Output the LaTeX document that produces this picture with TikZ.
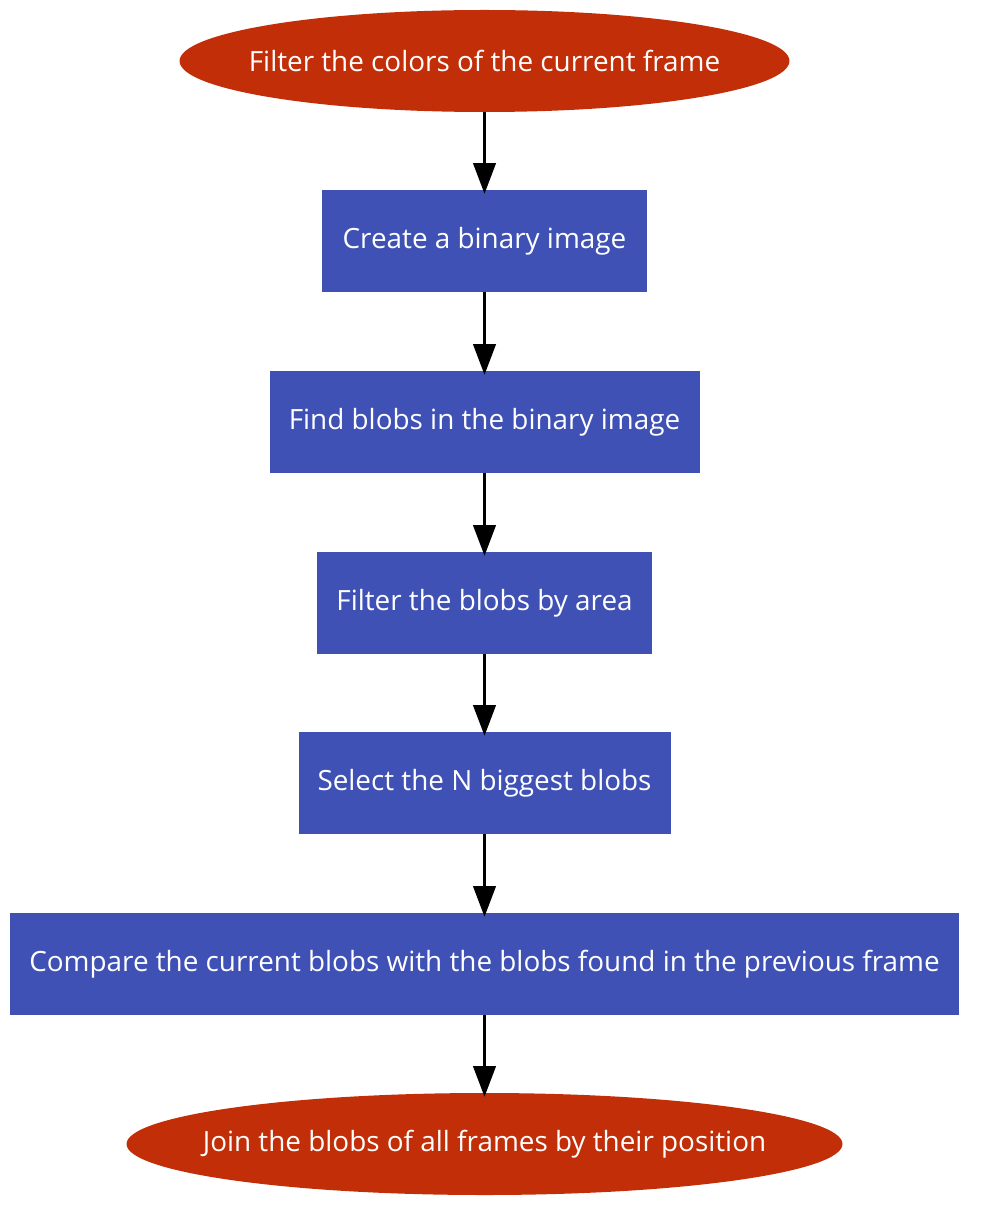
\documentclass[tikz,border=0pt]{standalone}
\usepackage{fontspec}
\setmainfont{Open Sans}
\usepackage{tikz}
\usetikzlibrary{arrows.meta,shapes.geometric}
\definecolor{termred}{RGB}{193,46,8}
\definecolor{stepblue}{RGB}{63,81,181}

\begin{document}
\begin{tikzpicture}[x=0.75pt, y=-0.75pt,
	every node/.style={text=white, font=\fontsize{20.9}{24}\selectfont, inner sep=0pt, minimum height=76.5pt},
	termnode/.style={ellipse, fill=termred},
	stepbox/.style={rectangle, fill=stepblue},
	flowarrow/.style={line width=1.6pt, shorten >=-3pt, -{Triangle[length=23pt, width=17pt]}}]
			%%%%% START %%%%%
			
			\useasboundingbox (0, 0) rectangle (983, 1219);
			
			\node[termnode, inner xsep=-15pt] (filter) at (484.5, 61) {Filter the colors of the current frame};
			\node[stepbox, minimum width=244pt] (binary) at (484.5, 241) {Create a binary image};
			\node[stepbox, minimum width=322.5pt] (blobs) at (484.5, 422) {Find blobs in the binary image};
			\node[stepbox, minimum width=251pt] (area) at (484.5, 603) {Filter the blobs by area};
			\node[stepbox, minimum width=279pt] (biggest) at (484.5, 783) {Select the N biggest blobs};
			\node[stepbox, minimum width=712pt] (compare) at (484.5, 964) {Compare the current blobs with the blobs found in the previous frame};
			\node[termnode, inner xsep=-21.4pt] (join) at (484.5, 1144) {Join the blobs of all frames by their position};
			
			\draw[flowarrow] (filter) -- (binary);
			\draw[flowarrow] (binary) -- (blobs);
			\draw[flowarrow] (blobs) -- (area);
			\draw[flowarrow] (area) -- (biggest);
			\draw[flowarrow] (biggest) -- (compare);
			\draw[flowarrow] (compare) -- (join);
			
			%%%%% END %%%%%
\end{tikzpicture}
\end{document}
